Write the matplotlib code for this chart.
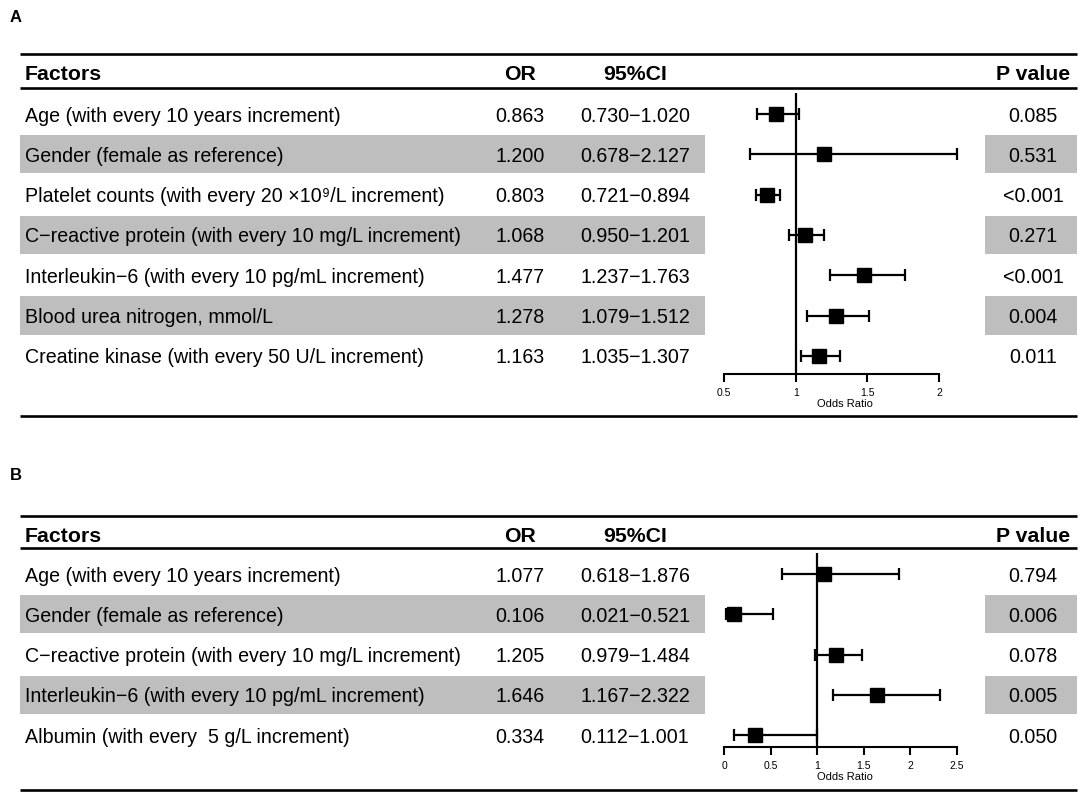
import numpy as np
import matplotlib.pyplot as plt

plt.rcParams['font.family'] = ['Liberation Sans', 'DejaVu Sans']

W, H = 1084, 795

# ---- data: panel A ----
factors_a = ["Age (with every 10 years increment)",
             "Gender (female as reference)",
             "Platelet counts (with every 20 \u00d710\u2079/L increment)",
             "C\u2212reactive protein (with every 10 mg/L increment)",
             "Interleukin\u22126 (with every 10 pg/mL increment)",
             "Blood urea nitrogen, mmol/L",
             "Creatine kinase (with every 50 U/L increment)"]
or_a = [0.863, 1.200, 0.803, 1.068, 1.477, 1.278, 1.163]
lo_a = [0.730, 0.678, 0.721, 0.950, 1.237, 1.079, 1.035]
hi_a = [1.020, 2.127, 0.894, 1.201, 1.763, 1.512, 1.307]
p_a = ["0.085", "0.531", "<0.001", "0.271", "<0.001", "0.004", "0.011"]
ticks_a = [0.5, 1, 1.5, 2]

# ---- data: panel B ----
factors_b = ["Age (with every 10 years increment)",
             "Gender (female as reference)",
             "C\u2212reactive protein (with every 10 mg/L increment)",
             "Interleukin\u22126 (with every 10 pg/mL increment)",
             "Albumin (with every  5 g/L increment)"]
or_b = [1.077, 0.106, 1.205, 1.646, 0.334]
lo_b = [0.618, 0.021, 0.979, 1.167, 0.112]
hi_b = [1.876, 0.521, 1.484, 2.322, 1.001]
p_b = ["0.794", "0.006", "0.078", "0.005", "0.050"]
ticks_b = [0, 0.5, 1, 1.5, 2, 2.5]

GREY = '#bebebe'
ROW_H = 40.33
X_LEFT, X_RIGHT = 20, 1077
FOREST_X0, FOREST_X1 = 705, 985
COL_OR, COL_CI, COL_P = 520, 635, 1033

fig = plt.figure(figsize=(W / 100, H / 100), dpi=100)
bg = fig.add_axes([0, 0, 1, 1])
bg.set_xlim(0, W)
bg.set_ylim(H, 0)
bg.axis('off')


def panel(label, label_y, top_line, head_y, head_line, row0, bottom_line,
          vline_top, axis_y, ticks, px_lo, px_hi,
          factors, ors, los, his, ps):
    n = len(factors)
    bg.text(10, label_y, label, fontsize=12, fontweight='bold', va='center')
    for yy in (top_line, head_line, bottom_line):
        bg.plot([X_LEFT, X_RIGHT], [yy, yy], color='black', lw=1.9,
                solid_capstyle='butt')
    hs = dict(fontsize=15.3, fontweight='bold', va='center_baseline')
    bg.text(25, head_y, "Factors", ha='left', **hs)
    bg.text(COL_OR, head_y, "OR", ha='center', **hs)
    bg.text(COL_CI, head_y, "95%CI", ha='center', **hs)
    bg.text(COL_P, head_y, "P value", ha='center', **hs)

    ts = dict(fontsize=14.1, va='center_baseline')
    for i in range(n):
        yc = row0 + i * ROW_H
        if i % 2 == 1:
            bg.fill_between([X_LEFT, FOREST_X0], yc - ROW_H / 2 + 1,
                            yc + ROW_H / 2 - 1, color=GREY, lw=0)
            bg.fill_between([FOREST_X1, X_RIGHT], yc - ROW_H / 2 + 1,
                            yc + ROW_H / 2 - 1, color=GREY, lw=0)
        bg.text(25, yc, factors[i], ha='left', **ts)
        bg.text(COL_OR, yc, f"{ors[i]:.3f}", ha='center', **ts)
        bg.text(COL_CI, yc, f"{los[i]:.3f}\u2212{his[i]:.3f}", ha='center', **ts)
        bg.text(COL_P, yc, ps[i], ha='center', **ts)

    # forest axes placed so that ticks land on the measured pixels
    ax = fig.add_axes([FOREST_X0 / W, 1 - axis_y / H,
                       (FOREST_X1 - FOREST_X0) / W, (axis_y - vline_top) / H])
    scale = (px_hi - px_lo) / (ticks[-1] - ticks[0])
    ax.set_xlim(ticks[0] - (px_lo - FOREST_X0) / scale,
                ticks[-1] + (FOREST_X1 - px_hi) / scale)
    ax.set_ylim((axis_y - row0) / ROW_H, (vline_top - row0) / ROW_H)
    ax.patch.set_alpha(0)
    for s in ('top', 'right', 'left'):
        ax.spines[s].set_visible(False)
    ax.spines['bottom'].set_bounds(ticks[0], ticks[-1])
    ax.spines['bottom'].set_linewidth(1.5)
    ax.set_yticks([])
    ax.set_xticks(ticks)
    ax.set_xticklabels([f"{t:g}" for t in ticks])
    ax.tick_params(axis='x', direction='out', length=6, width=1.5,
                   labelsize=7.5, pad=4)
    ax.set_xlabel("Odds Ratio", fontsize=8, labelpad=1)
    ax.axvline(1, color='black', lw=1.6)
    y = np.arange(n)
    o = np.array(ors)
    ax.errorbar(o, y, xerr=[o - np.array(los), np.array(his) - o], fmt='s',
                color='black', ms=10, capsize=4.5, elinewidth=1.6,
                capthick=1.6, clip_on=False)


panel("A", 17, 54, 73, 88, 114, 416, 93, 374, ticks_a, 724, 939,
      factors_a, or_a, lo_a, hi_a, p_a)
panel("B", 476, 516, 535, 548, 574, 790, 553, 747, ticks_b, 724, 957,
      factors_b, or_b, lo_b, hi_b, p_b)

fig.savefig("out.png", dpi=100)
